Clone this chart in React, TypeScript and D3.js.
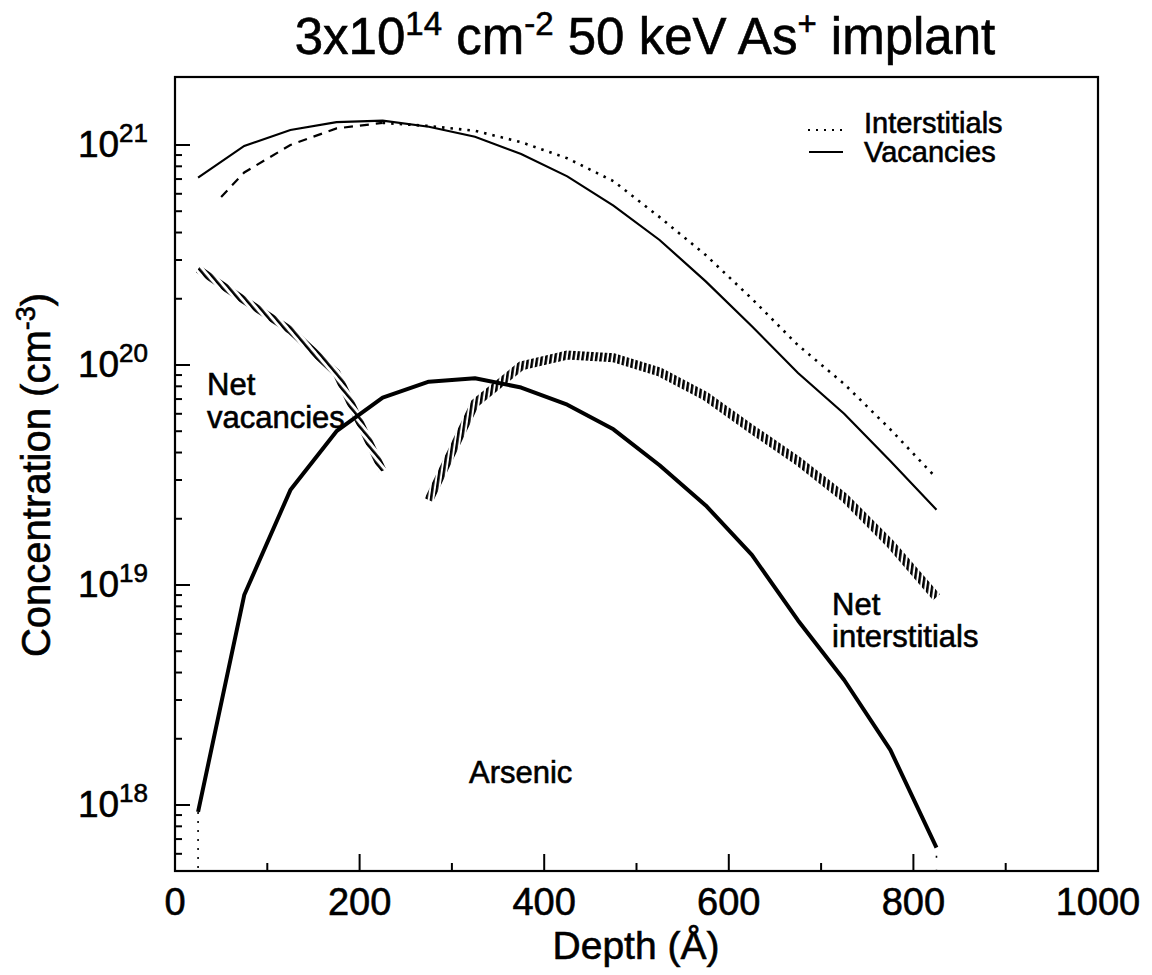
import React, { useEffect } from "react";
import * as d3 from "d3";

// ---- data ----
const depth = [25, 75, 125, 175, 225, 275, 325, 375, 425, 475, 525, 575, 625, 675, 725, 775, 825];
const arsenic = [9.3e17, 9.0e18, 2.7e19, 5.0e19, 7.1e19, 8.4e19, 8.7e19, 7.9e19, 6.6e19, 5.1e19, 3.5e19, 2.3e19, 1.37e19, 6.9e18, 3.7e18, 1.78e18, 6.4e17];
const vacancies = [7.1e20, 9.9e20, 1.17e21, 1.27e21, 1.29e21, 1.21e21, 1.09e21, 9.1e20, 7.2e20, 5.3e20, 3.7e20, 2.4e20, 1.5e20, 9.2e19, 6.0e19, 3.66e19, 2.2e19];
const interDepth = [50, 75, 125, 175, 225, 275, 325, 375, 425, 475, 525, 575, 625, 675, 725, 775, 825];
const interstitials = [5.8e20, 7.5e20, 1.0e21, 1.19e21, 1.26e21, 1.22e21, 1.16e21, 1.03e21, 8.7e20, 6.85e20, 4.7e20, 3.16e20, 2.0e20, 1.23e20, 8.2e19, 5.1e19, 3.06e19];
const netVacDepth = [25, 75, 125, 175, 225];
const netVacancies = [2.73e20, 1.97e20, 1.44e20, 9.2e19, 3.3e19];
const netIntDepth = [275, 325, 375, 425, 475, 525, 575, 625, 675, 725, 775, 825];
const netInterstitials = [2.43e19, 6.7e19, 9.9e19, 1.11e20, 1.08e20, 9.3e19, 7.2e19, 5.1e19, 3.66e19, 2.5e19, 1.54e19, 8.8e18];

const xMajorTicks = [0, 200, 400, 600, 800, 1000];
const xMinorTicks = [100, 300, 500, 700, 900];
const yMajorExp = [18, 19, 20, 21];
const yMinorTicks = [6e17, 7e17, 8e17, 9e17,
  2e18, 3e18, 4e18, 5e18, 6e18, 7e18, 8e18, 9e18,
  2e19, 3e19, 4e19, 5e19, 6e19, 7e19, 8e19, 9e19,
  2e20, 3e20, 4e20, 5e20, 6e20, 7e20, 8e20, 9e20];

const FONT = "'Liberation Sans', Arial, Helvetica, sans-serif";
const TS = { stroke: "#000", strokeWidth: 0.6 } as const;

export default function App() {
  useEffect(() => {
    document.body.style.margin = "0";
  }, []);

  const W = 1152, H = 975;
  const left = 175, right = 1098, top = 77, bottom = 871;
  const x = d3.scaleLinear().domain([0, 1000]).range([left, right]);
  const y = d3.scaleLog().domain([Math.pow(10, 17.7), Math.pow(10, 21.309)]).range([bottom, top]);

  const mk = (xs: number[], ys: number[]) =>
    d3.line<number>().x((_, i) => x(xs[i])).y((d) => y(d))(ys) || "";

  const asPath = mk(depth, arsenic);
  const vacPath = mk(depth, vacancies);
  // interstitials: dashed look near the surface, dotted deeper
  const split = 5;
  const intPathA = mk(interDepth.slice(0, split), interstitials.slice(0, split));
  const intPathB = mk(interDepth.slice(split - 1), interstitials.slice(split - 1));
  const nvPath = mk(netVacDepth, netVacancies);
  const niPath = mk(netIntDepth, netInterstitials);

  const ax0 = depth[0], ax1 = depth[depth.length - 1];

  return (
    <div style={{ position: "absolute", left: 0, top: 0 }}>
      <svg width={W} height={H} style={{ display: "block", background: "#fff" }} fontFamily={FONT}>
        <defs>
          <pattern id="hatchV" patternUnits="userSpaceOnUse" width="4.5" height="20" patternTransform="rotate(8)">
            <rect x="0" y="0" width="2.5" height="20" fill="#000" />
          </pattern>
          <pattern id="hatchD" patternUnits="userSpaceOnUse" width="5.4" height="20" patternTransform="rotate(-40)">
            <rect x="0" y="0" width="2.5" height="20" fill="#000" />
          </pattern>
          <clipPath id="plotClip">
            <rect x={left} y={top} width={right - left} height={bottom - top} />
          </clipPath>
        </defs>

        {/* Title */}
        <text x={645} y={54} textAnchor="middle" fontSize={51} fill="#000" {...TS}>
          3x10<tspan dy={-19} fontSize={33}>14</tspan>
          <tspan dy={19}> cm</tspan>
          <tspan dy={-19} fontSize={33}>-2</tspan>
          <tspan dy={19}> 50 keV As</tspan>
          <tspan dy={-19} fontSize={33}>+</tspan>
          <tspan dy={19}> implant</tspan>
        </text>

        {/* frame */}
        <rect x={left} y={top} width={right - left} height={bottom - top} fill="none" stroke="#000" strokeWidth={2.2} />

        {/* x ticks */}
        {xMajorTicks.map((t) => (
          <g key={"xm" + t}>
            <line x1={x(t)} x2={x(t)} y1={bottom} y2={bottom - 17} stroke="#000" strokeWidth={2} />
            <text x={x(t)} y={915} textAnchor="middle" fontSize={38} {...TS}>{t}</text>
          </g>
        ))}
        {xMinorTicks.map((t) => (
          <line key={"xn" + t} x1={x(t)} x2={x(t)} y1={bottom} y2={bottom - 8} stroke="#000" strokeWidth={2} />
        ))}

        {/* y ticks */}
        {yMajorExp.map((e) => (
          <g key={"ym" + e}>
            <line x1={left} x2={left + 15} y1={y(Math.pow(10, e))} y2={y(Math.pow(10, e))} stroke="#000" strokeWidth={2} />
            <text x={148} y={y(Math.pow(10, e)) + 12} textAnchor="end" fontSize={37} {...TS}>
              10<tspan dy={-15} fontSize={26}>{e}</tspan>
            </text>
          </g>
        ))}
        {yMinorTicks.map((t) => (
          <line key={"yn" + t} x1={left} x2={left + 7} y1={y(t)} y2={y(t)} stroke="#000" strokeWidth={2} />
        ))}

        {/* axis titles */}
        <text x={636} y={959} textAnchor="middle" fontSize={39} {...TS}>Depth (Å)</text>
        <text transform={`translate(50,475) rotate(-90)`} textAnchor="middle" fontSize={40} {...TS}>
          Concentration (cm<tspan dy={-15} fontSize={27}>-3</tspan><tspan dy={15}>)</tspan>
        </text>

        {/* curves */}
        <g clipPath="url(#plotClip)" fill="none">
          <path d={vacPath} stroke="#000" strokeWidth={2.2} />
          <path d={intPathA} stroke="#000" strokeWidth={2.2} strokeDasharray="9,7" />
          <path d={intPathB} stroke="#000" strokeWidth={2.6} strokeDasharray="2.5,6" />
          <path d={asPath} stroke="#000" strokeWidth={4} strokeLinejoin="round" />
          <line x1={x(ax0)} x2={x(ax0)} y1={y(arsenic[0])} y2={bottom} stroke="#000" strokeWidth={1.6} strokeDasharray="2,7" />
          <line x1={x(ax1)} x2={x(ax1)} y1={y(arsenic[arsenic.length - 1]) + 8} y2={bottom} stroke="#000" strokeWidth={1.6} strokeDasharray="2,12" />
          <path d={nvPath} stroke="url(#hatchD)" strokeWidth={8} />
          <path d={niPath} stroke="url(#hatchV)" strokeWidth={9} />
        </g>

        {/* legend */}
        <line x1={808} x2={842} y1={130} y2={130} stroke="#000" strokeWidth={2} strokeDasharray="2,6" />
        <text x={864} y={133} fontSize={29} {...TS}>Interstitials</text>
        <line x1={809} x2={843} y1={152} y2={152} stroke="#000" strokeWidth={2} />
        <text x={864} y={162} fontSize={29} {...TS}>Vacancies</text>

        {/* annotations */}
        <text x={207} y={395} fontSize={31} {...TS}>Net</text>
        <text x={207} y={428} fontSize={31} {...TS}>vacancies</text>
        <text x={832} y={615} fontSize={31} {...TS}>Net</text>
        <text x={832} y={647} fontSize={31} {...TS}>interstitials</text>
        <text x={469} y={783} fontSize={31} {...TS}>Arsenic</text>
      </svg>
    </div>
  );
}
